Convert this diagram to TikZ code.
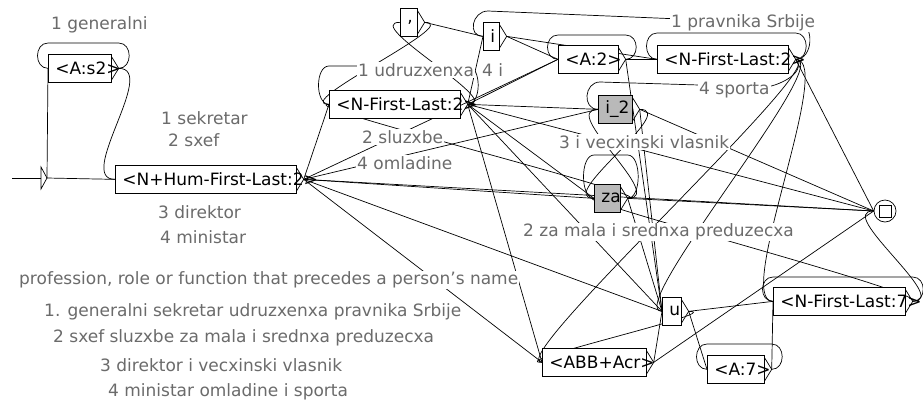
\documentclass[tikz,border=0pt]{standalone}
\usepackage{fontspec}
\setmainfont{DejaVu Sans}
\usetikzlibrary{calc, backgrounds}
\definecolor{uxGray}{HTML}{6B6B6B}
\definecolor{uxFill}{HTML}{B9B9B9}

\tikzset{
  ubox/.style={draw, fill=white, line width=0.7pt, inner sep=0pt, anchor=north west,
               minimum height=28pt, text=black},
  ulabel/.style={anchor=west, inner sep=1pt, fill=white, text=uxGray},
  trans/.style={line width=0.7pt},
}
% box: [fill] name, x, y (top left, px), width, text
\newcommand{\ubox}[6][white]{%
  \node[ubox, fill=#1, minimum width=#5pt] (#2) at (#3,-#4)
    {\makebox[\dimexpr#5pt-14pt\relax][l]{#6}};}
% self-loop over a box
\newcommand{\uloop}[2]{%
  \draw[trans] (#1-o) .. controls +(14,0) and +(14,0) .. ($(#1-o |- #1.north)+(0,#2)$)
    -- ($(#1.north west)+(0,#2)$) .. controls +(-14,0) and +(-14,0) .. (#1.west);}
% transition going back to the left
\newcommand{\uback}[2]{%
  \draw[trans] (#1-o) .. controls +(40,0) and +(-40,0) .. (#2.west);}

\begin{document}
\begin{tikzpicture}[x=1pt, y=1pt, font=\fontsize{17pt}{20pt}\selectfont]
  \useasboundingbox (0,0) rectangle (923,-400);

  % boxes
  \ubox{as2}{48}{54}{63}{<A:s2>}
  \ubox{nhum}{115}{165}{181}{<N+Hum-First-Last:2>}
  \ubox{nfl1}{329}{90}{131}{<N-First-Last:2>}
  \ubox{comma}{400}{8}{17}{,}
  \ubox{ii}{483}{22}{16}{i}
  \ubox{a2}{558}{45}{60}{<A:2>}
  \ubox{nfl2}{657}{45}{131}{<N-First-Last:2>}
  \ubox[uxFill]{itwo}{598}{95}{34}{i\_2}
  \ubox[uxFill]{za}{594}{184}{26}{za}
  \ubox{u}{662}{297}{19}{u}
  \ubox{abb}{542}{348}{104}{<ABB+Acr>}
  \ubox{a7}{707}{355}{57}{<A:7>}
  \ubox{nfl7}{773}{287}{132}{<N-First-Last:7>}

  \foreach \n in {as2,nhum,nfl1,comma,ii,a2,nfl2,itwo,za,u,abb,a7,nfl7}
    \draw[trans] ([yshift=-3pt]\n.north east) -- ([xshift=7pt]\n.east) coordinate (\n-o)
      -- ([yshift=3pt]\n.south east);

  % initial and final states
  \coordinate (start) at (12,-178);
  \coordinate (ini-o) at (47,-178);
  \draw[trans] (start) -- (41,-178);
  \draw[trans] (41,-167) -- (ini-o) -- (41,-189) -- cycle;
  \node[circle, draw, trans, fill=white, minimum size=22pt, inner sep=0pt] (fin) at (885,-211) {};
  \node[draw, trans, minimum size=12pt, inner sep=0pt] (finsq) at (fin) {};

  % comments
  \node[ulabel] (cgen) at (50,-25) {1 generalni};
  \node[ulabel] (csek) at (160,-118) {1 sekretar};
  \node[ulabel] (csxef) at (167,-140) {2 sxef};
  \node[ulabel] (cdir) at (157,-212) {3 direktor};
  \node[ulabel] (cmin) at (159,-237) {4 ministar};
  \node[ulabel] (cudr) at (357,-70) {1 udruzxenxa};
  \node[ulabel] (ci) at (481,-70) {4 i};
  \node[ulabel] (cslu) at (361,-137) {2 sluzxbe};
  \node[ulabel] (comla) at (356,-163) {4 omladine};
  \node[ulabel] (cprav) at (670,-23) {1 pravnika Srbije};
  \node[ulabel] (cspo) at (698,-90) {4 sporta};
  \node[ulabel] (cvec) at (558,-142) {3 i vecxinski vlasnik};
  \node[ulabel] (cmala) at (522,-232) {2 za mala i srednxa preduzecxa};
  \node[ulabel] (ctitle) at (18,-280) {profession, role or function that precedes a person's name};
  \node[ulabel] (cex1) at (43,-312) {1. generalni sekretar udruzxenxa pravnika Srbije};
  \node[ulabel] (cex2) at (52,-338) {2 sxef sluzxbe za mala i srednxa preduzecxa};
  \node[ulabel] (cex3) at (99,-365) {3 direktor i vecxinski vlasnik};
  \node[ulabel] (cex4) at (107,-392) {4 ministar omladine i sporta};

  \begin{pgfonlayer}{background}
    % forward transitions
    \foreach \a/\b in {ini/as2, ini/nhum, nhum/nfl1, nhum/a2, nhum/itwo, nhum/za,
                       nhum/fin, nhum/u, nhum/abb, nfl1/ii, nfl1/a2, nfl1/itwo, nfl1/za,
                       nfl1/u, nfl1/abb, nfl1/fin, comma/ii, ii/a2, ii/nfl2, a2/nfl2,
                       a2/u, itwo/fin, itwo/u, za/fin, za/u, nfl2/fin, abb/u, abb/fin,
                       u/a7, u/nfl7, a7/nfl7}
      \draw[trans] (\a-o) -- (\b.west);
    % transitions back
    \uback{as2}{nhum}
    \uback{nfl1}{comma}
    \uback{comma}{nfl1}
    \uback{za}{nfl1}
    \uback{nfl2}{u}
    \uback{nfl2}{abb}
    \uback{nfl2}{nfl7}
    \uback{itwo}{za}
    \uback{za}{itwo}
    \uback{u}{abb}
    \uback{nfl7}{fin}
    \draw[trans] (nfl2-o) .. controls +(18,0) and +(14,0) .. (800,-24) -- (488,-11)
      .. controls +(-16,0) and +(-16,0) .. (ii.west);
    \draw[trans] (nfl2-o) .. controls +(12,-14) and +(10,0) .. (765,-87) -- (600,-82)
      .. controls +(-16,0) and +(-16,0) .. (itwo.west);
    \draw[trans] (nfl7-o) .. controls +(18,8) and +(-30,0) .. (za.west);
    % loops
    \uloop{as2}{11}
    \uloop{nfl1}{24}
    \uloop{a2}{10}
    \uloop{nfl2}{12}
    \uloop{za}{29}
    \uloop{a7}{11}
    \uloop{nfl7}{10}
  \end{pgfonlayer}
\end{tikzpicture}
\end{document}
